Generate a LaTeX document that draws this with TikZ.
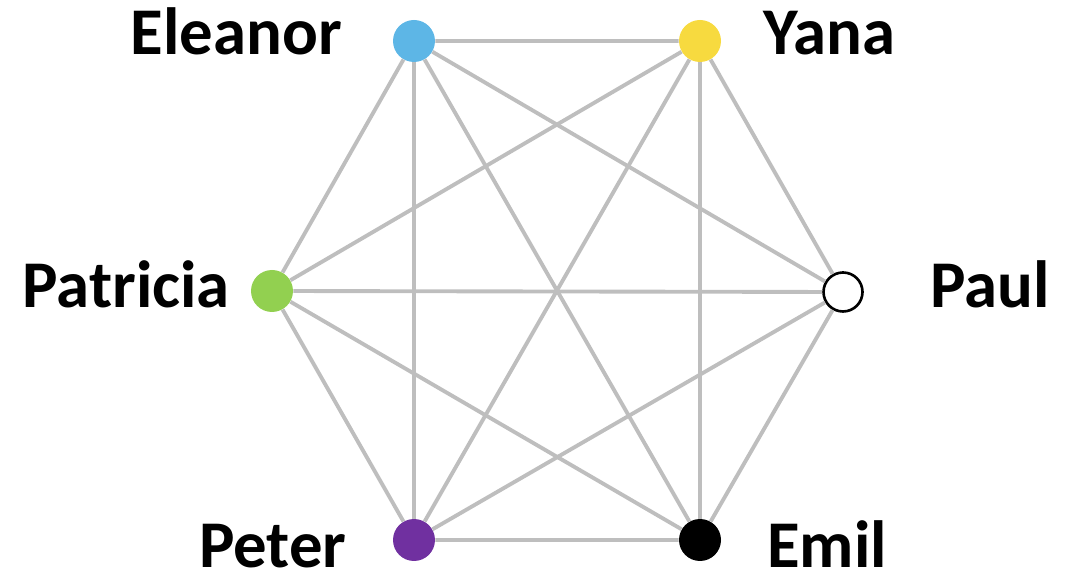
\documentclass[tikz,border=0pt]{standalone}
\usepackage{fontspec}
\setmainfont{Carlito}
\definecolor{eleanorblue}{RGB}{93,182,230}
\definecolor{yanayellow}{RGB}{247,218,63}
\definecolor{patgreen}{RGB}{146,208,80}
\definecolor{peterpurple}{RGB}{112,48,160}
\definecolor{edgegray}{RGB}{190,190,190}
\begin{document}
\begin{tikzpicture}[x=0.02cm,y=-0.02cm,
    person/.style={draw=none,circle,minimum size=0.84cm,inner sep=0pt},
    personlabel/.style={inner sep=0pt,font=\fontsize{38}{38}\selectfont\bfseries},
    link/.style={draw=edgegray,line width=2.2pt}]
    \useasboundingbox (0,0) rectangle (1079,573);
    \node[person,fill=eleanorblue](el)at (414,41){};
    \node[person,fill=yanayellow](ya)at (700,41){};
    \node[person,draw=black,line width=1.5pt,fill=white,minimum size=0.78cm](pa)at (843,292){};
    \node[person,fill=black](em)at (700,540){};
    \node[person,fill=peterpurple](pe)at (414,540){};
    \node[person,fill=patgreen](pt)at (272,291){};
    \draw[link](el)--(ya)--(pa)--(em)--(pe)--(pt)--(el);
    \draw[link](el)--(pa);
    \draw[link](el)--(em);
    \draw[link](el)--(pe);
    \draw[link](ya)--(em);
    \draw[link](ya)--(pe);
    \draw[link](ya)--(pt);
    \draw[link](pa)--(pe);
    \draw[link](pa)--(pt);
    \draw[link](em)--(pt);
    \node[personlabel,anchor=base east](elname) at (342,55) {Eleanor};
    \node[personlabel,anchor=base west](yaname) at (763,55) {Yana};
    \node[personlabel,anchor=base west](paname) at (930,308) {Paul};
    \node[personlabel,anchor=base west](emname) at (767,568) {Emil};
    \node[personlabel,anchor=base east](pename) at (347,568) {Peter};
    \node[personlabel,anchor=base east](ptname) at (230,308) {Patricia};
\end{tikzpicture}
\end{document}
